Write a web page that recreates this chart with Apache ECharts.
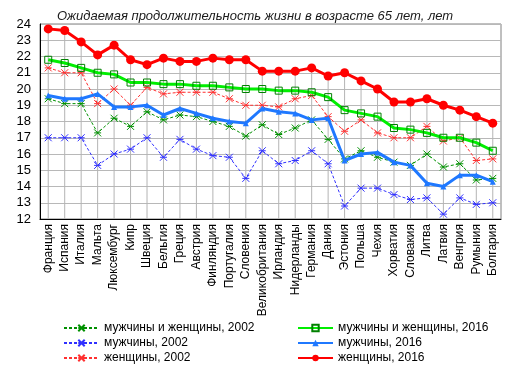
<!DOCTYPE html>
<html><head><meta charset="utf-8">
<script src="https://cdn.jsdelivr.net/npm/echarts@6/dist/echarts.min.js"></script>
<style>html,body{margin:0;padding:0;background:#fff}#c{width:516px;height:368px}</style>
</head><body><div id="c"></div>
<script>
var categories = ['Франция','Испания','Италия','Мальта','Люксембург','Кипр','Швеция','Бельгия','Греция','Австрия','Финляндия','Португалия','Словения','Великобритания','Ирландия','Нидерланды','Германия','Дания','Эстония','Польша','Чехия','Хорватия','Словакия','Литва','Латвия','Венгрия','Румыния','Болгария'];
var both2002 = [19.4,19.1,19.1,17.3,18.2,17.7,18.6,18.1,18.4,18.3,18.0,17.7,17.1,17.8,17.2,17.6,18.1,16.9,15.7,16.2,15.8,15.5,15.3,16.0,15.2,15.4,14.4,14.5];
var men2002 = [17.0,17.0,17.0,15.3,16.0,16.3,17.0,15.8,16.9,16.3,15.9,15.8,14.5,16.2,15.4,15.6,16.2,15.4,12.8,13.9,13.9,13.5,13.2,13.3,12.3,13.3,12.9,13.0];
var women2002 = [21.3,21.0,21.0,19.1,20.0,19.0,20.1,19.7,19.8,19.8,19.8,19.4,19.0,19.0,18.9,19.4,19.6,18.3,17.4,18.1,17.3,17.0,17.0,17.7,16.8,17.0,15.6,15.7];
var both2016 = [21.8,21.6,21.3,21.0,20.9,20.4,20.4,20.3,20.3,20.2,20.2,20.1,20.0,20.0,19.9,19.9,19.8,19.5,18.7,18.5,18.3,17.6,17.5,17.3,17.0,17.0,16.7,16.2];
var men2016 = [19.6,19.4,19.4,19.7,18.9,18.9,19.0,18.4,18.8,18.5,18.2,18.0,17.9,18.8,18.6,18.5,18.1,18.2,15.6,16.0,16.1,15.5,15.3,14.2,14.0,14.7,14.7,14.3];
var women2016 = [23.7,23.6,22.9,22.1,22.7,21.8,21.5,21.9,21.7,21.7,21.9,21.8,21.8,21.1,21.1,21.1,21.3,20.8,21.0,20.5,20.0,19.2,19.2,19.4,19.0,18.7,18.3,17.9];
var yMin = 12, yMax = 24, yStep = 1;
var title = 'Ожидаемая продолжительность жизни в возрасте 65 лет, лет';
var names = ['мужчины и женщины, 2002','мужчины, 2002','женщины, 2002','мужчины и женщины, 2016','мужчины, 2016','женщины, 2016'];

var FONT = '"Liberation Sans", Arial, sans-serif';
var xPath = 'path://M0,0L10,10M10,0L0,10M0,5L10,5';
function dashed(name, data, color) {
  return {type:'line', name:name, data:data, symbol:xPath, symbolSize:7,
    lineStyle:{color:color, width:1, type:[3,2]},
    itemStyle:{color:'rgba(0,0,0,0)', borderColor:color, borderWidth:1},
    z:3};
}
var legendCommon = {top:322, orient:'vertical', itemWidth:35, itemHeight:8, itemGap:3, padding:0, height:50,
  textStyle:{fontFamily:FONT, fontSize:12, color:'#000'}};
var chart = echarts.init(document.getElementById('c'), null, {renderer:'canvas'});
chart.setOption({
  animation:false,
  backgroundColor:'#fff',
  title:{text:title, left:52, top:5, textStyle:{fontFamily:FONT, fontSize:13, fontStyle:'italic', fontWeight:'normal', color:'#1a1a1a'}},
  grid:{left:40, right:15, top:24, bottom:149, show:true, borderColor:'#808080', borderWidth:1},
  legend:[
    Object.assign({left:63, data:[names[0],names[1],names[2]]}, legendCommon),
    Object.assign({left:297, data:[names[3],names[4],names[5]]}, legendCommon)
  ],
  xAxis:{type:'category', data:categories, boundaryGap:true,
    axisLine:{lineStyle:{color:'#000', width:1}}, axisTick:{show:false},
    axisLabel:{rotate:90, interval:0, fontFamily:FONT, fontSize:12, color:'#000', margin:5},
    splitLine:{show:false}},
  yAxis:{type:'value', min:yMin, max:yMax, interval:yStep,
    axisLine:{show:true, lineStyle:{color:'#000', width:1}}, axisTick:{show:false},
    axisLabel:{fontFamily:FONT, fontSize:13, color:'#000', margin:9},
    splitLine:{lineStyle:{color:'#b8b8b8', width:1}}},
  series:[
    {type:'bar', name:'drop', data:women2016, barWidth:1, silent:true,
     itemStyle:{color:'#b4b4b4'}, z:1},
    dashed(names[0], both2002, '#009000'),
    dashed(names[1], men2002, '#3030ff'),
    dashed(names[2], women2002, '#ff3030'),
    {type:'line', name:names[3], data:both2016, symbol:'rect', symbolSize:7,
     lineStyle:{color:'#00ee00', width:3}, itemStyle:{color:'rgba(0,0,0,0)', borderColor:'#008000', borderWidth:1}, z:4},
    {type:'line', name:names[4], data:men2016, symbol:'triangle', symbolSize:6,
     lineStyle:{color:'#1f78ff', width:3}, itemStyle:{color:'#1f78ff'}, z:4},
    {type:'line', name:names[5], data:women2016, symbol:'circle', symbolSize:9,
     lineStyle:{color:'#ff0000', width:3}, itemStyle:{color:'#ff0000'}, z:5}
  ]
});
</script></body></html>
